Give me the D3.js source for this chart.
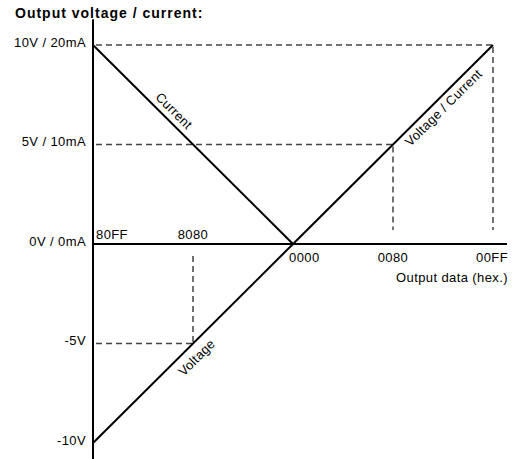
<!DOCTYPE html>
<html>
<head>
<meta charset="utf-8">
<script src="https://cdn.jsdelivr.net/npm/d3@7"></script>
<style>
  body { margin: 0; background: #fff; }
  svg text { font-family: "Liberation Sans", Arial, sans-serif; fill: #000; }
</style>
</head>
<body>
<svg id="chart" width="517" height="459"></svg>
<script>
// Output data codes (hex) and their normalized position on the data axis
const xCodes = ["80FF", "8080", "0000", "0080", "00FF"];
const xValues = [-1, -0.5, 0, 0.5, 1];

// Output levels (volts) and their labels
const yValues = [10, 5, 0, -5, -10];
const yLabels = ["10V / 20mA", "5V / 10mA", "0V / 0mA", "-5V", "-10V"];

// Characteristic lines
const voltageX = [-1, 0, 1];
const voltageV = [-10, 0, 10];
const currentX = [-1, 0];
const currentMA = [20, 0];

// Levels with dashed guide lines
const guideLevels = [10, 5, -5];

var svg = d3.select("#chart");

var x = d3.scaleLinear().domain([-1, 1]).range([93, 493]);
var y = d3.scaleLinear().domain([-10, 10]).range([443, 45]);
const mAtoV = ma => ma / 2; // 20 mA shares the 10 V level

// title
svg.append("text")
    .attr("x", 15).attr("y", 18)
    .attr("font-size", 14).attr("font-weight", "bold")
    .attr("letter-spacing", 1)
    .text("Output voltage / current:");

// dashed guides
var guides = svg.append("g")
    .attr("fill", "none").attr("stroke", "#444")
    .attr("stroke-width", 1.5).attr("stroke-dasharray", "6,4");

guideLevels.forEach(v => {
    const xv = v / 10; // where the voltage line reaches this level
    guides.append("line")
        .attr("x1", x(-1) + 3).attr("x2", x(xv))
        .attr("y1", y(v)).attr("y2", y(v));
    if (v > 0) {
        guides.append("line")
            .attr("x1", x(xv)).attr("x2", x(xv))
            .attr("y1", y(v) + 2).attr("y2", y(0.7));
    } else {
        guides.append("line")
            .attr("x1", x(xv)).attr("x2", x(xv))
            .attr("y1", y(-0.6)).attr("y2", y(v));
    }
});

// axes
var yAxis = d3.axisLeft(y)
    .tickValues(yValues)
    .tickSize(0).tickPadding(7)
    .tickFormat((d, i) => yLabels[i]);
var gy = svg.append("g").attr("transform", `translate(${x(-1)},0)`).call(yAxis);
gy.select(".domain").remove();
gy.selectAll("text")
    .attr("font-family", null).attr("font-size", 13)
    .attr("letter-spacing", 0.4)
    .attr("dy", "0.08em");

svg.append("line")
    .attr("x1", x(-1)).attr("x2", x(-1))
    .attr("y1", y(11.3)).attr("y2", y(-11.4))
    .attr("stroke", "#000").attr("stroke-width", 2);
svg.append("line")
    .attr("x1", x(-1)).attr("x2", x(1.07))
    .attr("y1", y(0)).attr("y2", y(0))
    .attr("stroke", "#000").attr("stroke-width", 2);

// x labels: negative codes above axis, positive below
svg.append("g").selectAll("text")
    .data(xCodes)
    .join("text")
    .attr("font-size", 13).attr("letter-spacing", 0.4)
    .attr("x", (d, i) => {
        if (i === 0) return x(xValues[i]) + 3;
        if (i === xCodes.length - 1) return x(xValues[i]) + 15;
        if (xValues[i] === 0) return x(xValues[i]) - 4;
        return x(xValues[i]);
    })
    .attr("y", (d, i) => xValues[i] < 0 ? y(0) - 5 : y(0) + 18)
    .attr("text-anchor", (d, i) => {
        if (i === 0 || xValues[i] === 0) return "start";
        if (i === xCodes.length - 1) return "end";
        return "middle";
    })
    .text(d => d);

svg.append("text")
    .attr("x", x(1) + 15).attr("y", y(0) + 38)
    .attr("font-size", 13).attr("letter-spacing", 0.4)
    .attr("text-anchor", "end")
    .text("Output data (hex.)");

// characteristic lines
var line = d3.line().x(d => x(d[0])).y(d => y(d[1]));
svg.append("path")
    .datum(voltageX.map((v, i) => [v, voltageV[i]]))
    .attr("d", line)
    .attr("fill", "none").attr("stroke", "#000").attr("stroke-width", 2);
svg.append("path")
    .datum(currentX.map((v, i) => [v, mAtoV(currentMA[i])]))
    .attr("d", line)
    .attr("fill", "none").attr("stroke", "#000").attr("stroke-width", 2);

// line labels along the lines
function lineLabel(text, px, py, p0, p1, dy) {
    const ang = Math.atan2(y(p1[1]) - y(p0[1]), x(p1[0]) - x(p0[0])) * 180 / Math.PI;
    svg.append("text")
        .attr("transform", `translate(${x(px)},${y(py)}) rotate(${ang})`)
        .attr("font-size", 13).attr("letter-spacing", 0.3)
        .attr("text-anchor", "middle")
        .attr("dy", dy)
        .text(text);
}
lineLabel("Current", -0.632, mAtoV(currentMA[0]) * 0.632,
    [currentX[0], mAtoV(currentMA[0])], [currentX[1], mAtoV(currentMA[1])], -6);
lineLabel("Voltage / Current", 0.719, 7.19,
    [voltageX[0], voltageV[0]], [voltageX[2], voltageV[2]], 14);
lineLabel("Voltage", -0.526, -5.26,
    [voltageX[0], voltageV[0]], [voltageX[2], voltageV[2]], 17);
</script>
</body>
</html>
